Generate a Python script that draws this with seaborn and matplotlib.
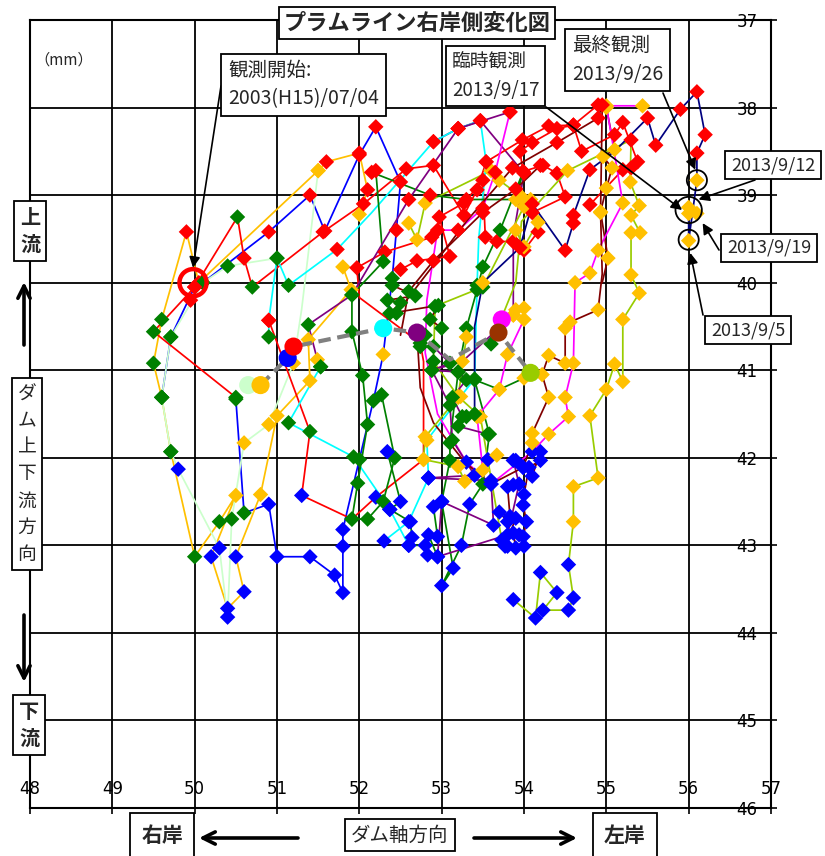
import matplotlib
matplotlib.use('Agg')
import matplotlib.pyplot as plt
import seaborn as sns
import pandas as pd

sns.set_theme(style='white')
plt.rcParams['font.family'] = ['Noto Sans CJK JP', 'DejaVu Sans']
plt.rcParams['axes.unicode_minus'] = False

# marker colour codes (R=red, B=blue, G=green, Y=gold, N=no marker)
MARKER_COLORS = {'R': '#FF0000', 'B': '#0000FF', 'G': '#008000', 'Y': '#FFC000'}

# ---------------- observation series (x = ダム軸方向, y = 上下流方向, mm) ----------------
S01_X = [49.95, 50.1, 50.9, 51.4, 51.58, 52.0, 52.2, 52.5, 52.45, 52.4, 52.29, 52.17, 52.0, 51.8, 51.8, 51.8, 51.7, 51.4, 51.0, 50.9, 50.6, 50.5]
S01_Y = [40.2, 40.0, 39.42, 39.0, 39.41, 38.54, 38.22, 38.85, 39.4, 39.95, 40.82, 41.35, 42.02, 42.82, 43.01, 43.54, 43.34, 43.13, 43.13, 42.53, 42.63, 41.33]
S01_M = "RGRRRRRRRGYGGBBBBBBBGG"

S02_X = [50.0, 49.71, 49.6]
S02_Y = [40.05, 40.62, 41.31]
S02_M = "RGG"

S03_X = [52.0, 52.1, 52.0, 51.6, 51.5, 50.05, 49.9, 49.6, 49.5, 49.6, 49.71, 50.0, 50.3, 50.5, 50.2, 50.4, 50.6, 50.5, 50.8, 51.0, 51.4, 51.38, 51.9, 51.8]
S03_Y = [39.22, 38.94, 38.52, 38.62, 38.72, 40.0, 39.42, 40.42, 40.92, 41.31, 41.93, 43.13, 42.73, 42.43, 43.13, 43.72, 43.53, 43.13, 42.42, 41.52, 41.12, 40.65, 40.08, 39.82]
S03_M = "YRRRYRRGGGGGGYBBBBYYYYYY"

S04_X = [51.0, 50.4, 50.1, 49.71, 49.6, 49.71, 49.8, 50.3, 50.4, 50.45, 50.6, 50.9, 51.2, 51.3, 51.5]
S04_Y = [39.72, 39.81, 40.0, 40.62, 41.31, 41.93, 42.13, 43.03, 43.82, 42.7, 41.83, 41.62, 40.92, 40.3, 38.72]
S04_M = "GGGGGGBBBGYYYNY"

S05_X = [50.5, 49.5, 50.0, 50.52, 50.6, 50.7, 51.56, 52.05, 52.57, 52.9, 53.27, 53.43, 53.54, 53.98, 54.3, 54.6, 54.9]
S05_Y = [41.31, 40.56, 40.05, 39.25, 39.72, 40.05, 39.42, 39.1, 38.7, 38.66, 39.23, 38.94, 38.62, 38.37, 38.21, 38.2, 37.97]
S05_M = "GGRGRGRRRRRRRRRRR"

S06_X = [50.9, 51.4, 51.3, 51.91, 52.2, 52.78, 52.78, 52.74, 52.0, 51.97, 52.31, 52.88]
S06_Y = [40.43, 41.7, 42.43, 42.7, 42.45, 42.02, 40.9, 40.69, 40.17, 39.83, 39.65, 39.48]
S06_M = "RGBGBYNGNRRR"

S07_X = [50.9, 50.9, 51.0, 51.14, 51.73, 52.15, 52.9, 53.2, 53.47, 53.54, 53.45, 53.43, 53.4, 53.23, 52.82, 52.84, 52.6, 52.3]
S07_Y = [40.62, 40.43, 39.72, 40.03, 39.62, 39.2, 38.39, 38.24, 38.15, 38.62, 39.5, 40.03, 41.1, 41.3, 41.8, 42.23, 42.73, 42.95]
S07_M = "GRGGRNRRRRNGGYYBBB"

S08_X = [51.53, 51.14, 51.93, 52.37, 52.6]
S08_Y = [40.96, 41.6, 41.99, 42.59, 43.0]
S08_M = "GGGBB"

S09_X = [52.2, 52.29, 51.91, 51.91, 52.04, 52.1, 51.98, 51.91, 52.1, 52.29, 52.43, 52.27]
S09_Y = [38.72, 39.76, 40.14, 40.56, 41.06, 41.62, 42.29, 42.7, 42.7, 42.5, 42.0, 41.28]
S09_M = "RGGGGGGGGGGG"

S10_X = [52.15, 52.86, 53.3, 53.9, 53.99, 53.71, 53.5, 53.43, 53.3, 53.2, 53.1, 53.1, 53.0, 53.14, 53.0, 53.24, 53.34, 53.5, 53.58, 53.4, 53.7, 54.0]
S10_Y = [38.74, 39.0, 39.05, 39.05, 38.73, 39.4, 39.82, 40.08, 40.52, 41.02, 41.83, 42.03, 42.5, 43.26, 43.46, 43.0, 42.53, 42.3, 41.73, 41.11, 41.22, 41.09]
S10_M = "RRRYRGGGGGGGBBBBBGGGYY"

S12_X = [55.44, 55.0, 55.2, 54.9, 54.8, 54.62, 54.6, 54.5, 54.54, 54.3, 54.1, 53.6, 53.3, 52.95, 52.8, 52.82, 52.95, 53.2, 53.5, 53.65, 53.83]
S12_Y = [37.98, 37.98, 39.09, 39.63, 39.89, 40.0, 40.92, 41.31, 41.53, 41.73, 41.93, 42.3, 42.05, 41.5, 40.8, 40.2, 39.4, 39.4, 39.15, 38.74, 38.05]
S12_M = "YYYYYYYYYYBBBNNNRRRRR"

S13_X = [53.83, 53.2, 52.6, 51.91, 51.38, 51.49, 51.53]
S13_Y = [38.05, 38.24, 39.05, 40.14, 40.48, 40.88, 40.96]
S13_M = "RRRGGYG"

S14_X = [53.87, 53.25, 52.88, 53.1, 53.13, 53.4, 52.84, 53.6, 53.63, 53.0, 52.95, 53.8, 53.94, 53.87]
S14_Y = [40.37, 40.9, 41.0, 41.4, 41.8, 42.2, 42.23, 42.26, 42.77, 42.5, 43.13, 42.88, 42.3, 42.03]
S14_M = "YYGGGBBBBBBBBB"

S15_X = [52.45, 52.9, 53.3, 53.86, 54.4, 54.9, 54.95, 54.93, 54.95, 54.9, 54.56, 54.5, 54.5, 54.3, 54.22, 54.3, 54.1, 54.1, 53.99, 53.6, 53.28, 52.9, 52.74, 52.7]
S15_Y = [40.35, 39.8, 39.3, 38.69, 38.4, 38.12, 37.97, 39.2, 39.9, 40.31, 40.45, 40.52, 40.92, 40.83, 41.05, 41.31, 41.72, 41.83, 42.11, 42.3, 42.05, 41.6, 41.2, 40.57]
S15_M = "GNNRRRRYNYYYYYYYYYBBNNNN"

S16_X = [52.5, 52.6, 52.9, 53.5, 53.9, 54.2]
S16_Y = [40.6, 40.1, 39.75, 39.2, 38.93, 38.66]
S16_M = "NGRRRR"

S17_X = [53.6, 53.9, 53.97, 54.53, 55.3, 55.29, 55.4, 55.3, 55.41, 55.3, 55.3, 55.4, 55.2, 55.2, 55.1, 55.0, 54.8, 54.9, 54.6, 54.6, 54.54, 54.6, 54.54, 54.23, 54.4, 54.2, 54.14, 53.87]
S17_Y = [40.7, 40.0, 39.3, 38.72, 38.37, 38.85, 39.12, 39.23, 39.43, 39.43, 39.91, 40.12, 40.42, 41.13, 40.93, 41.22, 41.52, 42.23, 42.33, 42.73, 43.22, 43.6, 43.74, 43.74, 43.54, 43.31, 43.83, 43.62]
S17_M = "GNNYRYYYYYYYYYYYYYYYBBBBBBBB"

S18_X = [54.0, 53.5, 52.92, 52.9, 53.2, 53.47, 53.56, 53.73]
S18_Y = [39.13, 40.05, 40.27, 40.9, 41.3, 41.53, 42.02, 42.94]
S18_M = "YGGGYYBB"

S19_X = [53.4, 53.4, 53.5, 53.95, 54.1, 54.5, 54.6, 54.6, 54.8, 55.1, 55.5, 55.6, 55.9, 56.1, 56.2, 56.1, 56.1, 56.0, 56.0, 56.1, 56.0]
S19_Y = [41.5, 40.5, 40.0, 39.6, 39.1, 39.63, 39.32, 39.23, 38.71, 38.5, 38.12, 38.43, 38.02, 37.82, 38.31, 38.52, 38.83, 39.52, 39.14, 39.21, 39.21]
S19_M = "GNYRRRRRRNRRRRRRYYYYY"

S20_X = [52.5, 52.7, 53.1, 52.97, 53.27, 53.5, 53.53, 53.67, 53.87, 54.0, 54.17, 54.1, 54.5, 54.4, 54.23, 53.99, 53.95, 54.1, 54.4, 54.6, 54.7, 55.1, 55.2, 55.38, 55.3, 55.2, 54.8]
S20_Y = [39.85, 39.75, 39.7, 39.25, 39.09, 38.83, 39.48, 39.53, 39.53, 39.63, 39.42, 39.2, 39.02, 38.75, 38.66, 38.73, 38.5, 38.4, 38.24, 38.2, 38.5, 38.31, 38.17, 38.62, 38.69, 38.71, 39.11]
S20_M = "RRRRRRRRRRRRRRRRRRRRRRRRRRR"

S21_X = [52.9, 53.2, 53.47, 54.0, 53.9, 53.87, 53.87]
S21_Y = [38.39, 38.24, 38.15, 38.75, 39.3, 39.53, 40.37]
S21_M = "RRRRNRY"

S23_X = [53.9, 53.99, 54.1, 54.2, 54.2, 54.06, 54.0, 53.99, 54.03, 53.99, 53.94, 53.87, 53.9, 54.0, 53.8, 53.77, 53.9, 53.8, 53.7, 53.83, 53.8, 53.87]
S23_Y = [42.03, 42.11, 42.21, 41.93, 42.03, 42.11, 42.42, 42.54, 42.73, 42.9, 42.88, 42.86, 43.03, 43.01, 43.01, 43.01, 42.69, 42.73, 42.62, 42.67, 42.33, 42.31]
S23_M = "BBBBBBBBBBBBBBBBBBBBBB"

S24_X = [52.34, 52.5, 52.37, 52.62, 52.64, 52.6, 52.8, 52.83, 52.95, 52.84, 52.95, 52.9, 53.0]
S24_Y = [41.93, 42.5, 42.59, 42.73, 42.91, 43.0, 43.0, 43.11, 43.13, 42.88, 42.9, 42.56, 42.5]
S24_M = "BBBBBBBBBBBBB"

S25_X = [52.6, 52.7, 52.8, 53.6, 53.7, 53.97, 54.08, 54.17, 54.0, 53.9]
S25_Y = [39.32, 39.51, 39.09, 38.72, 38.83, 39.02, 39.05, 39.31, 39.59, 39.4]
S25_M = "YYYYYYYYYY"

S26_X = [55.0, 55.1, 54.96, 55.07, 55.0, 54.93, 55.02, 54.95]
S26_Y = [38.0, 38.48, 38.56, 38.69, 38.92, 39.19, 39.72, 40.0]
S26_M = "YYYYYYYN"

S27_X = [53.9, 54.0, 54.0, 53.8, 53.7, 53.43, 53.5, 53.67]
S27_Y = [40.31, 40.29, 40.42, 40.82, 41.22, 41.53, 42.14, 41.97]
S27_M = "YYYYYYYY"

S28_X = [53.3, 53.2, 52.8, 52.78, 53.2, 53.28]
S28_Y = [40.62, 41.31, 41.76, 42.02, 42.1, 42.27]
S28_M = "YYYYYY"

S29_X = [52.4, 52.68, 52.34, 52.5, 52.37, 52.96, 52.86, 53.0]
S29_Y = [40.03, 40.15, 40.2, 40.23, 40.35, 40.26, 40.42, 40.52]
S29_M = "GGGGGGGG"

S30_X = [52.8, 52.74, 52.9, 53.1, 52.88, 53.2, 53.3, 53.13, 53.25, 53.3, 53.2, 53.56]
S30_Y = [40.6, 40.73, 40.73, 40.92, 41.0, 41.02, 41.11, 41.31, 41.53, 41.53, 41.64, 41.73]
S30_M = "GGGGGGGGGGGG"

SERIES = [
    ('#FF0000', S20_X, S20_Y, S20_M),
    ('#800080', S21_X, S21_Y, S21_M),
    ('#99CC00', S25_X, S25_Y, S25_M),
    ('#800000', S26_X, S26_Y, S26_M),
    ('#0000FF', S01_X, S01_Y, S01_M),
    ('#0000FF', S02_X, S02_Y, S02_M),
    ('#FFC000', S03_X, S03_Y, S03_M),
    ('#CCFFCC', S04_X, S04_Y, S04_M),
    ('#FF0000', S05_X, S05_Y, S05_M),
    ('#FF0000', S06_X, S06_Y, S06_M),
    ('#00FFFF', S07_X, S07_Y, S07_M),
    ('#00FFFF', S08_X, S08_Y, S08_M),
    ('#008000', S09_X, S09_Y, S09_M),
    ('#008000', S10_X, S10_Y, S10_M),
    ('#FF00FF', S12_X, S12_Y, S12_M),
    ('#800080', S13_X, S13_Y, S13_M),
    ('#800080', S14_X, S14_Y, S14_M),
    ('#800000', S15_X, S15_Y, S15_M),
    ('#800000', S16_X, S16_Y, S16_M),
    ('#99CC00', S17_X, S17_Y, S17_M),
    ('#99CC00', S18_X, S18_Y, S18_M),
    ('#FF00FF', S27_X, S27_Y, S27_M),
    ('#99CC00', S28_X, S28_Y, S28_M),
    ('#800000', S29_X, S29_Y, S29_M),
    ('#800080', S30_X, S30_Y, S30_M),
    ('#008000', S24_X, S24_Y, S24_M),
    ('#800000', S23_X, S23_Y, S23_M),
    ('#000080', S19_X, S19_Y, S19_M),
]

# latest positions of each year (large filled circles) and their connecting path
CUR_X = [50.65, 50.8, 51.13, 51.2, 52.29, 52.7, 53.73, 53.69, 54.08]
CUR_Y = [41.17, 41.17, 40.86, 40.73, 40.52, 40.57, 40.42, 40.57, 41.03]
CUR_C = ['#CCFFCC', '#FFC000', '#0000FF', '#FF0000', '#00FFFF', '#800080', '#FF00FF', '#993300', '#99CC00']
PATH_X = [50.8, 51.13, 51.2, 52.29, 52.7, 53.1, 53.69, 54.08]
PATH_Y = [41.17, 40.86, 40.73, 40.52, 40.57, 40.88, 40.57, 41.03]

# highlighted observations
START_X, START_Y = [49.98], [40.0]
SEPT_X = [56.1, 56.0, 56.0]
SEPT_Y = [38.83, 39.17, 39.51]
SEPT_S = [210, 360, 210]

W, H = 825, 856


def F(px, py):
    return (px / W, 1 - py / H)


fig = plt.figure(figsize=(W / 100, H / 100), dpi=100)
ax = fig.add_axes([30 / W, 1 - 808 / H, 741 / W, 788 / H])

for color, xs, ys, ms in SERIES:
    df = pd.DataFrame({'x': xs, 'y': ys, 'm': list(ms)})
    sns.lineplot(data=df, x='x', y='y', sort=False, estimator=None, color=color,
                 lw=1.25, ax=ax, zorder=3)
    dm = df[df['m'] != 'N']
    sns.scatterplot(data=dm, x='x', y='y', hue='m', palette=MARKER_COLORS, marker='D',
                    s=62, linewidth=0, legend=False, ax=ax, zorder=4)

path_df = pd.DataFrame({'x': PATH_X, 'y': PATH_Y})
sns.lineplot(data=path_df, x='x', y='y', sort=False, estimator=None, color='#808080',
             lw=3, ax=ax, zorder=5, linestyle=(0, (3, 1.6)))
cur_df = pd.DataFrame({'x': CUR_X, 'y': CUR_Y, 'c': CUR_C})
sns.scatterplot(data=cur_df, x='x', y='y', hue='c', palette={c: c for c in CUR_C},
                s=170, linewidth=0, legend=False, ax=ax, zorder=6)

ax.scatter(START_X, START_Y, s=380, facecolors='none', edgecolors='#FF0000', linewidths=3.2, zorder=7)
ax.scatter(SEPT_X, SEPT_Y, s=SEPT_S, facecolors='none', edgecolors='black', linewidths=1.3, zorder=7)

ax.set_xlim(48, 57)
ax.set_ylim(46, 37)
ax.set_xticks(range(48, 58))
ax.set_yticks(range(37, 47))
ax.set_xlabel('')
ax.set_ylabel('')
ax.grid(True, color='black', lw=1.3)
ax.set_axisbelow(True)
for sp in ax.spines.values():
    sp.set_visible(True)
    sp.set_color('black')
    sp.set_linewidth(1.5)
ax.yaxis.tick_right()
ax.tick_params(axis='y', right=True, left=False, direction='out', length=4, width=1.2,
               pad=-29, labelsize=12, colors='black')
ax.tick_params(axis='x', bottom=True, direction='out', length=4, width=1.2,
               pad=-24, labelsize=12, colors='black')
for lab in ax.get_xticklabels() + ax.get_yticklabels():
    lab.set_family('DejaVu Sans')


def bx(pad):
    return dict(boxstyle='square,pad=%s' % pad, fc='white', ec='black', lw=1.3)


fig.text(*F(417, 23), 'プラムライン右岸側変化図', ha='center', va='center', fontsize=16,
         fontweight='bold', bbox=bx(0.22), zorder=10)
fig.text(*F(34, 60), '（mm）', ha='left', va='center', fontsize=11)

fig.text(*F(228, 85), '観測開始:\n2003(H15)/07/04', ha='left', va='center', fontsize=14,
         linespacing=1.45, bbox=bx(0.35), zorder=10)
fig.text(*F(452, 76), '臨時観測\n2013/9/17', ha='left', va='center', fontsize=13.5,
         linespacing=1.45, bbox=bx(0.3), zorder=10)
fig.text(*F(572, 60), '最終観測\n2013/9/26', ha='left', va='center', fontsize=14,
         linespacing=1.45, bbox=bx(0.35), zorder=10)
fig.text(*F(773, 165), '2013/9/12', ha='center', va='center', fontsize=13, bbox=bx(0.3), zorder=10)
fig.text(*F(769, 248), '2013/9/19', ha='center', va='center', fontsize=13, bbox=bx(0.3), zorder=10)
fig.text(*F(748, 330), '2013/9/5', ha='center', va='center', fontsize=13, bbox=bx(0.3), zorder=10)

thin = dict(arrowstyle='-|>', color='black', lw=1.2, mutation_scale=16, shrinkA=0, shrinkB=0)
ax.annotate('', xy=(49.98, 39.83), xytext=F(221, 86), textcoords='figure fraction', arrowprops=thin, annotation_clip=False, zorder=9)
ax.annotate('', xy=(55.92, 39.17), xytext=F(546, 107), textcoords='figure fraction', arrowprops=thin, annotation_clip=False, zorder=9)
ax.annotate('', xy=(56.08, 38.71), xytext=F(663, 93), textcoords='figure fraction', arrowprops=thin, annotation_clip=False, zorder=9)
ax.annotate('', xy=(56.12, 39.05), xytext=F(755, 180), textcoords='figure fraction', arrowprops=thin, annotation_clip=False, zorder=9)
ax.annotate('', xy=(56.17, 39.32), xytext=F(719, 250), textcoords='figure fraction', arrowprops=thin, annotation_clip=False, zorder=9)
ax.annotate('', xy=(56.02, 39.66), xytext=F(703, 315), textcoords='figure fraction', arrowprops=thin, annotation_clip=False, zorder=9)

# side labels
fig.text(*F(30, 231), '上\n流', ha='center', va='center', fontsize=14.5, fontweight='bold',
         linespacing=1.35, bbox=bx(0.3), zorder=10)
fig.text(*F(27, 474), 'ダ\nム\n上\n下\n流\n方\n向', ha='center', va='center', fontsize=13.5,
         linespacing=1.36, bbox=bx(0.3), zorder=10)
fig.text(*F(29, 725), '下\n流', ha='center', va='center', fontsize=14.5, fontweight='bold',
         linespacing=1.35, bbox=bx(0.3), zorder=10)

thick = dict(arrowstyle='->', color='black', lw=2.6, mutation_scale=22, shrinkA=0, shrinkB=0)
ax.annotate('', xy=F(24, 282), xycoords='figure fraction', xytext=F(24, 345), textcoords='figure fraction', arrowprops=thick, annotation_clip=False)
ax.annotate('', xy=F(24, 682), xycoords='figure fraction', xytext=F(24, 615), textcoords='figure fraction', arrowprops=thick, annotation_clip=False)
ax.annotate('', xy=F(199, 838), xycoords='figure fraction', xytext=F(298, 838), textcoords='figure fraction', arrowprops=thick, annotation_clip=False)
ax.annotate('', xy=F(577, 838), xycoords='figure fraction', xytext=F(474, 838), textcoords='figure fraction', arrowprops=thick, annotation_clip=False)

fig.text(*F(162, 835), '右岸', ha='center', va='center', fontsize=15, fontweight='bold',
         bbox=bx(0.55), zorder=10)
fig.text(*F(400, 835), 'ダム軸方向', ha='center', va='center', fontsize=14,
         bbox=bx(0.3), zorder=10)
fig.text(*F(625, 835), '左岸', ha='center', va='center', fontsize=15, fontweight='bold',
         bbox=bx(0.55), zorder=10)

fig.savefig('out.png', dpi=100, facecolor='white')
